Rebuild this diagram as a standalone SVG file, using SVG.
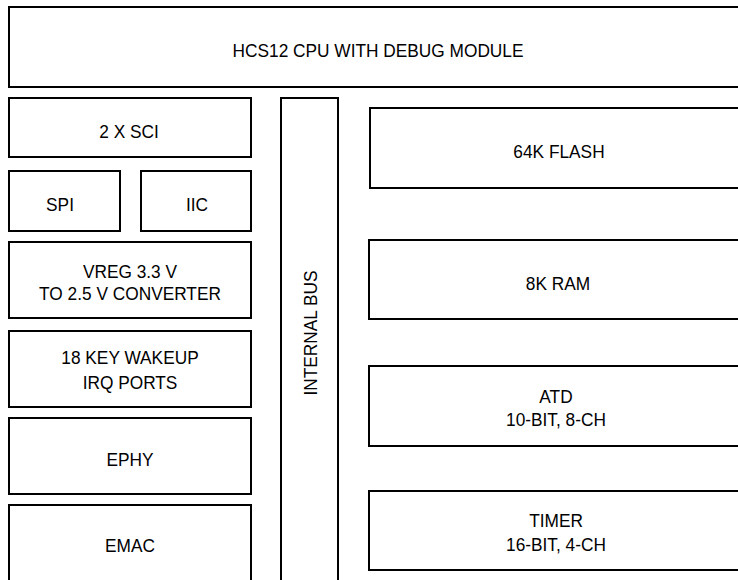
<svg xmlns="http://www.w3.org/2000/svg" width="738" height="580" viewBox="0 0 738 580">
<style>
rect{fill:#fff;stroke:#000;stroke-width:2}
text{font-family:"Liberation Sans",Arial,sans-serif;font-size:19px;fill:#000;text-anchor:middle}
</style>
<rect x="0" y="0" width="738" height="580" style="stroke:none"/>
<g id="cpu"><rect x="9" y="7" width="740" height="80"/><text transform="translate(378,57) scale(0.91,1)">HCS12 CPU WITH DEBUG MODULE</text></g>
<g id="sci"><rect x="9" y="98" width="242" height="59"/><text transform="translate(129,138) scale(0.91,1)">2 X SCI</text></g>
<g id="spi"><rect x="9" y="171" width="111" height="60"/><text transform="translate(60,211) scale(0.91,1)">SPI</text></g>
<g id="iic"><rect x="141" y="171" width="110" height="60"/><text transform="translate(197,211) scale(0.91,1)">IIC</text></g>
<g id="vreg"><rect x="9" y="242" width="242" height="76"/><text transform="translate(130,278) scale(0.91,1)">VREG 3.3 V</text><text transform="translate(130,300) scale(0.91,1)">TO 2.5 V CONVERTER</text></g>
<g id="wakeup"><rect x="9" y="331" width="242" height="76"/><text transform="translate(130,364) scale(0.91,1)">18 KEY WAKEUP</text><text transform="translate(130,389) scale(0.91,1)">IRQ PORTS</text></g>
<g id="ephy"><rect x="9" y="418" width="242" height="76"/><text transform="translate(130,466) scale(0.91,1)">EPHY</text></g>
<g id="emac"><rect x="9" y="505" width="242" height="90"/><text transform="translate(130,552) scale(0.91,1)">EMAC</text></g>
<g id="bus"><rect x="281" y="98" width="57" height="500"/><text transform="translate(317,333) rotate(-90) scale(0.91,1)">INTERNAL BUS</text></g>
<g id="flash"><rect x="370" y="108" width="380" height="80"/><text transform="translate(559,158) scale(0.91,1)">64K FLASH</text></g>
<g id="ram"><rect x="369" y="240" width="380" height="79"/><text transform="translate(558,290) scale(0.91,1)">8K RAM</text></g>
<g id="atd"><rect x="369" y="366" width="380" height="80"/><text transform="translate(556,403) scale(0.91,1)">ATD</text><text transform="translate(556,426) scale(0.91,1)">10-BIT, 8-CH</text></g>
<g id="timer"><rect x="369" y="491" width="380" height="79"/><text transform="translate(556,527) scale(0.91,1)">TIMER</text><text transform="translate(556,551) scale(0.91,1)">16-BIT, 4-CH</text></g>
<g id="connectors"></g>
</svg>
